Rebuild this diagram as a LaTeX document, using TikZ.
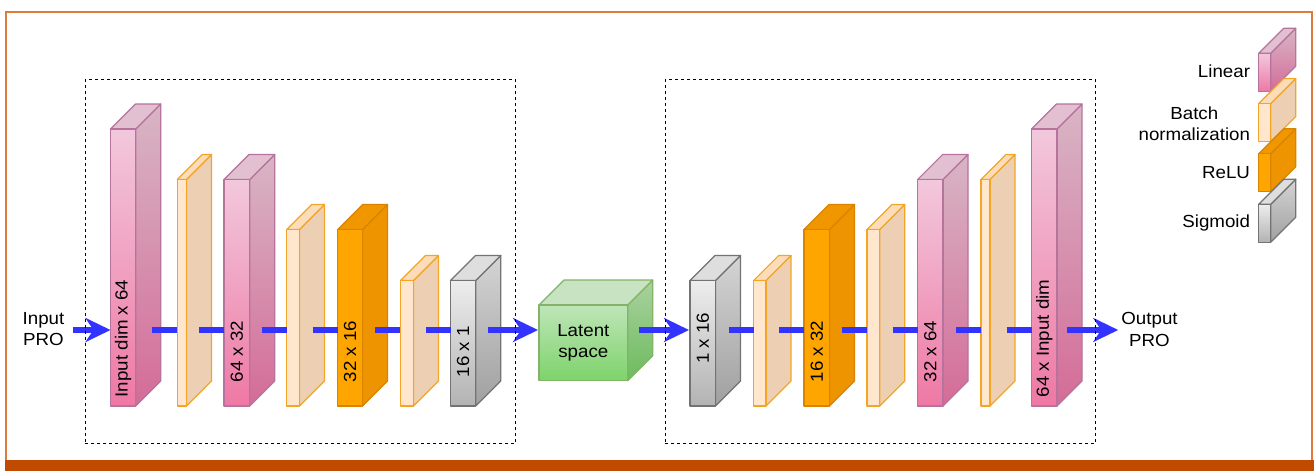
\documentclass[tikz,border=0pt]{standalone}
\usepackage{fontspec}
\setmainfont{Liberation Sans}[FakeStretch=1.07]
\usetikzlibrary{arrows.meta,calc}

% palette
\definecolor{linstroke}{HTML}{B5739D}
\definecolor{linFa}{HTML}{F2C8DC}
\definecolor{linFb}{HTML}{EE78A4}
\definecolor{linSa}{HTML}{D8B5C5}
\definecolor{linSb}{HTML}{D46C98}
\definecolor{linT}{HTML}{E2C0D2}
\definecolor{bnstroke}{HTML}{F2A526}
\definecolor{bnF}{HTML}{FFE6CC}
\definecolor{bnS}{HTML}{EDD0B3}
\definecolor{bnT}{HTML}{FDDCBA}
\definecolor{relustroke}{HTML}{D98300}
\definecolor{reluF}{HTML}{FFA500}
\definecolor{reluS}{HTML}{EE9400}
\definecolor{reluT}{HTML}{F09700}
\definecolor{sigstroke}{HTML}{737373}
\definecolor{sigFa}{HTML}{EDEDED}
\definecolor{sigFb}{HTML}{B3B3B3}
\definecolor{sigSa}{HTML}{D4D4D4}
\definecolor{sigSb}{HTML}{A0A0A0}
\definecolor{sigT}{HTML}{DEDEDE}
\definecolor{latstroke}{HTML}{82B366}
\definecolor{latFa}{HTML}{BFE5B8}
\definecolor{latFb}{HTML}{7DD36B}
\definecolor{latSa}{HTML}{A9D1A0}
\definecolor{latSb}{HTML}{6DBB5D}
\definecolor{latT}{HTML}{C7E3C1}
\definecolor{flowblue}{HTML}{3333FF}
\definecolor{frameline}{HTML}{E07A3A}
\definecolor{framebar}{HTML}{C04A00}

\tikzset{
  face/.style={line width=1.2pt, line join=round},
  frontface/.style={face, inner sep=0pt, outer sep=0pt},
  lin front/.style={frontface, draw=linstroke, top color=linFa, bottom color=linFb},
  lin side/.style={face, draw=linstroke, top color=linSa, bottom color=linSb},
  lin top/.style={face, draw=linstroke, fill=linT},
  bn front/.style={frontface, draw=bnstroke, fill=bnF},
  bn side/.style={face, draw=bnstroke, fill=bnS},
  bn top/.style={face, draw=bnstroke, fill=bnT},
  relu front/.style={frontface, draw=relustroke, fill=reluF},
  relu side/.style={face, draw=relustroke, fill=reluS},
  relu top/.style={face, draw=relustroke, fill=reluT},
  sig front/.style={frontface, draw=sigstroke, top color=sigFa, bottom color=sigFb},
  sig side/.style={face, draw=sigstroke, top color=sigSa, bottom color=sigSb},
  sig top/.style={face, draw=sigstroke, fill=sigT},
  lat front/.style={frontface, draw=latstroke, top color=latFa, bottom color=latFb},
  lat side/.style={face, draw=latstroke, top color=latSa, bottom color=latSb},
  lat top/.style={face, draw=latstroke, fill=latT},
  dimtext/.style={rotate=90, inner sep=0pt},
  plaintext/.style={inner sep=0pt, align=center},
  link/.style={draw=flowblue, line width=5.3pt},
  arrowlink/.style={link, -{Stealth[length=25pt, width=24pt, inset=8pt]}},
  groupbox/.style={draw=black, line width=1pt, dash pattern=on 3pt off 3pt,
    inner sep=0pt, outer sep=0pt, anchor=north west},
}

% depth of every cuboid
\newcommand\dep{25}
% \layer{name}{kind}{left x}{top y}{front width}{bottom y}
\newcommand\layer[6]{%
  \pgfmathsetmacro\xr{#3+#5}%
  \pgfmathsetmacro\hh{#6-#4}%
  \path[#2 side] (\xr,#4) -- ++(\dep,-\dep) -- (\xr+\dep,#6-\dep) -- (\xr,#6) -- cycle;
  \path[#2 top] (#3,#4) -- ++(\dep,-\dep) -- ++(#5,0) -- (\xr,#4) -- cycle;
  \node[#2 front, minimum width=#5pt, minimum height=\hh pt, anchor=north west]
    (#1) at (#3,#4) {};
}

\begin{document}
\begin{tikzpicture}[x=1pt, y=-1pt, font=\fontsize{17.5}{21.5}\selectfont]
\useasboundingbox (0,0) rectangle (1314,471);

% page frame
\fill[framebar] (5,460) rectangle (1314,471);
\draw[frameline, line width=1.3pt] (6,460) -- (6,12) -- (1312,12) -- (1312,460);

% reference heights of the flow line and of the size labels
\coordinate (axis) at (0,330);
\coordinate (lab) at (0,351.5);
\coordinate (labhi) at (0,338.4);

% encoder
\layer{e1}{lin}{110.5}{129}{25.3}{406}
\layer{e2}{bn}{177.3}{179.5}{9.2}{406}
\layer{e3}{lin}{224}{179.5}{25.7}{406}
\layer{e4}{bn}{286.7}{229.5}{12.7}{406}
\layer{e5}{relu}{337.7}{229.5}{24.8}{406}
\layer{e6}{bn}{400.4}{280.5}{13}{406}
\layer{e7}{sig}{450.5}{280.5}{25.3}{406}

% latent code
\layer{lat}{lat}{539}{305}{88.7}{380.7}

% decoder
\layer{d1}{sig}{690}{280.5}{25.5}{406}
\layer{d2}{bn}{753.6}{280.5}{12.4}{406}
\layer{d3}{relu}{804}{229.5}{25.5}{406}
\layer{d4}{bn}{867}{229.5}{12.8}{406}
\layer{d5}{lin}{917.6}{179.5}{25.4}{406}
\layer{d6}{bn}{981}{179.5}{9}{406}
\layer{d7}{lin}{1031.5}{129}{25.5}{406}

% size labels
\node[dimtext] (t1) at (e1 |- labhi) {Input dim x 64};
\node[dimtext] (t3) at (e3 |- lab) {64 x 32};
\node[dimtext] (t5) at (e5 |- lab) {32 x 16};
\node[dimtext] (t7) at (e7 |- lab) {16 x 1};
\node[dimtext] (u1) at (d1 |- labhi) {1 x 16};
\node[dimtext] (u3) at (d3 |- lab) {16 x 32};
\node[dimtext] (u5) at (d5 |- lab) {32 x 64};
\node[dimtext] (u7) at (d7 |- labhi) {64 x Input dim};
\node[plaintext] (latlbl) at (lat) {Latent\\space};

% input and output
\node[plaintext] (inp) at (43.5,329) {Input\\PRO};
\node[plaintext] (outp) at (1149.5,329.5) {Output\\PRO};

% data flow
\draw[arrowlink] ($(inp.east |- axis)+(8,0)$) -- (e1.west |- axis);
\foreach \b in {e2,e3,e4,e5,e6,e7,d2,d3,d4,d5,d6,d7}
  \draw[link] ($(\b.west |- axis)+(-25,0)$) -- (\b.west |- axis);
\draw[arrowlink] ($(lat.west |- axis)+(-51,0)$) -- ($(lat.west |- axis)+(-1,0)$);
\draw[arrowlink] ($(d1.west |- axis)+(-51,0)$) -- ($(d1.west |- axis)+(-1,0)$);
\draw[arrowlink] ($(d7.west |- axis)+(35.5,0)$) -- ($(outp.west |- axis)+(-3,0)$);

% encoder / decoder groups
\node[groupbox, minimum width=430pt, minimum height=364.5pt] (enc) at (85,79) {};
\node[groupbox, minimum width=430pt, minimum height=364.5pt] (dec) at (665,79) {};

% legend
\layer{g1}{lin}{1258.7}{53.3}{12}{91.3}
\layer{g2}{bn}{1258.7}{103.6}{12}{141.6}
\layer{g3}{relu}{1258.7}{153.8}{12}{191.8}
\layer{g4}{sig}{1258.7}{204.2}{12}{242.2}
\node[plaintext, anchor=east] (k1) at ($(g1.west)+(-8.5,-1)$) {Linear};
\node[plaintext, anchor=east] (k2) at ($(g2.west)+(-8.5,1)$) {Batch\\normalization};
\node[plaintext, anchor=east] (k3) at ($(g3.west)+(-8.5,0)$) {ReLU};
\node[plaintext, anchor=east] (k4) at ($(g4.west)+(-8.5,0)$) {Sigmoid};
\end{tikzpicture}
\end{document}
